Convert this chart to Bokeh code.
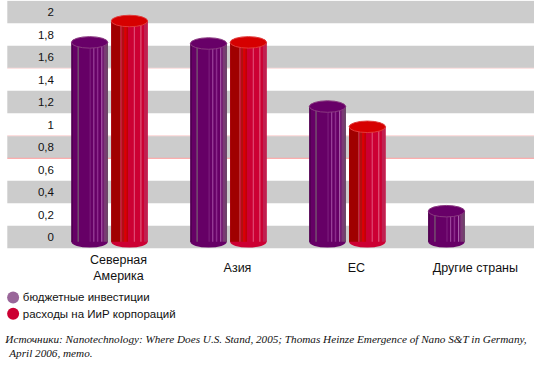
from bokeh.plotting import figure
from bokeh.models import Range1d
from bokeh.core.properties import value
from bokeh.embed import file_html
from bokeh.resources import INLINE

# ---------------- data ----------------
categories = ["Северная\nАмерика", "Азия", "ЕС", "Другие страны"]
budget = [1.73, 1.72, 1.16, 0.23]
corporate = [1.92, 1.73, 0.98, None]
series_names = ["бюджетные инвестиции", "расходы на ИиР корпораций"]
tick_values = [0, 0.2, 0.4, 0.6, 0.8, 1.0, 1.2, 1.4, 1.6, 1.8, 2.0]
tick_labels = ["0", "0,2", "0,4", "0,6", "0,8", "1", "1,2", "1,4", "1,6", "1,8", "2"]
source_lines = [
    "Источники: Nanotechnology: Where Does U.S. Stand, 2005; Thomas Heinze Emergence of Nano S&T in Germany,",
    "April 2006, memo.",
]

# ---------------- layout helpers (reference-pixel based) ----------------
W, H = 534, 363
RW, RH = 550, 379
PXX = 122.5     # ref px per category step
PXY = 117.5     # ref px per value unit
X0 = 112.3      # ref x of first group centre
Y0 = 247.0      # ref y of value 0

def fx(px):
    return (px - X0) / PXX

def fy(py):
    return (Y0 - py) / PXY

p = figure(width=W, height=H, output_backend="svg", toolbar_location=None,
           x_range=Range1d(fx(0), fx(RW)), y_range=Range1d(fy(RH), fy(0)),
           min_border=0, min_border_left=0, min_border_right=0,
           min_border_top=0, min_border_bottom=0)
p.xaxis.visible = False
p.yaxis.visible = False
p.grid.visible = False
p.outline_line_color = None
p.background_fill_color = "white"
p.border_fill_color = "white"

# ---------------- background bands ----------------
step = tick_values[1] - tick_values[0]
gb = [v - step / 2 for i, v in enumerate(tick_values) if i % 2 == 0]
gt = [v + step / 2 for i, v in enumerate(tick_values) if i % 2 == 0]
p.quad(left=fx(7), right=fx(RW + 5), bottom=gb, top=gt, fill_color="#cccccc", line_color=None)

for v, c in [(0.7, "#ff9c9c"), (0.9, "#ffd6d6"), (1.5, "#ffdede")]:
    p.segment(x0=[fx(7)], x1=[fx(RW + 5)], y0=[v], y1=[v], line_color=c, line_width=1)

# y tick labels
p.text(x=[fx(55)] * len(tick_values), y=tick_values, text=tick_labels,
       text_font=value("Liberation Sans"), text_font_size="11.5px",
       text_align="right", text_baseline="middle", text_color="#111111")

# ---------------- cylinders ----------------
half_w = 18.75 / PXX
ell_h = 12 / PXY
base = fy(252)

styles = [
    dict(off=-20.5 / PXX, body="#660066", top="#680068", rim="#8a3a80",
         stripes=[(0.00, 0.04, "#4d004d"), (0.17, 0.20, "#7a6a72"), (0.50, 0.53, "#7d1f7d"),
                  (0.60, 0.63, "#a04aa0"), (0.70, 0.74, "#8c2c8c"), (0.82, 0.85, "#b06ab0"),
                  (0.88, 1.00, "#7b3a75"), (0.96, 1.00, "#6a4a66")]),
    dict(off=20.5 / PXX, body="#cc0033", top="#d60000", rim="#e03a3a",
         stripes=[(0.00, 0.25, "#a00000"), (0.25, 0.28, "#b84040"), (0.30, 0.36, "#b01010"),
                  (0.36, 0.42, "#dd0000"), (0.42, 0.46, "#c00000"), (0.62, 0.65, "#e0507a"),
                  (0.80, 0.83, "#e06080"), (0.90, 1.00, "#c02050")]),
]

for vals, st in zip([budget, corporate], styles):
    xs = [i + st["off"] for i, v in enumerate(vals) if v is not None]
    ys = [v for v in vals if v is not None]
    n = len(xs)
    p.ellipse(x=xs, y=[base] * n, width=2 * half_w, height=ell_h,
              fill_color=st["body"], line_color=None)
    p.quad(left=[x - half_w for x in xs], right=[x + half_w for x in xs],
           bottom=[base] * n, top=ys, fill_color=st["body"], line_color=None)
    for a, b, c in st["stripes"]:
        p.quad(left=[x - half_w + a * 2 * half_w for x in xs],
               right=[x - half_w + b * 2 * half_w for x in xs],
               bottom=[base] * n, top=ys, fill_color=c, line_color=None)
    p.ellipse(x=xs, y=ys, width=2 * half_w, height=ell_h,
              fill_color=st["top"], line_color=st["rim"], line_width=1)

# ---------------- category labels ----------------
p.text(x=list(range(len(categories))), y=[fy(279)] * len(categories), text=categories,
       x_offset=9, text_font=value("Liberation Sans"), text_font_size="12.5px",
       text_align="center", text_baseline="middle", text_color="#111111",
       text_line_height=1.15)

# ---------------- legend ----------------
leg_y = [fy(310), fy(327)]
p.scatter(x=[fx(13)] * 2, y=leg_y, size=12, marker="circle",
          fill_color=["#996699", "#cc0033"], line_color=None)
p.text(x=[fx(23)] * 2, y=leg_y, text=series_names,
       text_font=value("Liberation Sans"), text_font_size="11.5px",
       text_align="left", text_baseline="middle", text_color="#111111")

# ---------------- source ----------------
p.text(x=[fx(5), fx(9)], y=[fy(353), fy(368)], text=source_lines,
       text_font=value("Liberation Serif"), text_font_style="italic", text_font_size="11.2px",
       text_align="left", text_baseline="middle", text_color="#111111")

open("out.html", "w").write(file_html(p, INLINE))
